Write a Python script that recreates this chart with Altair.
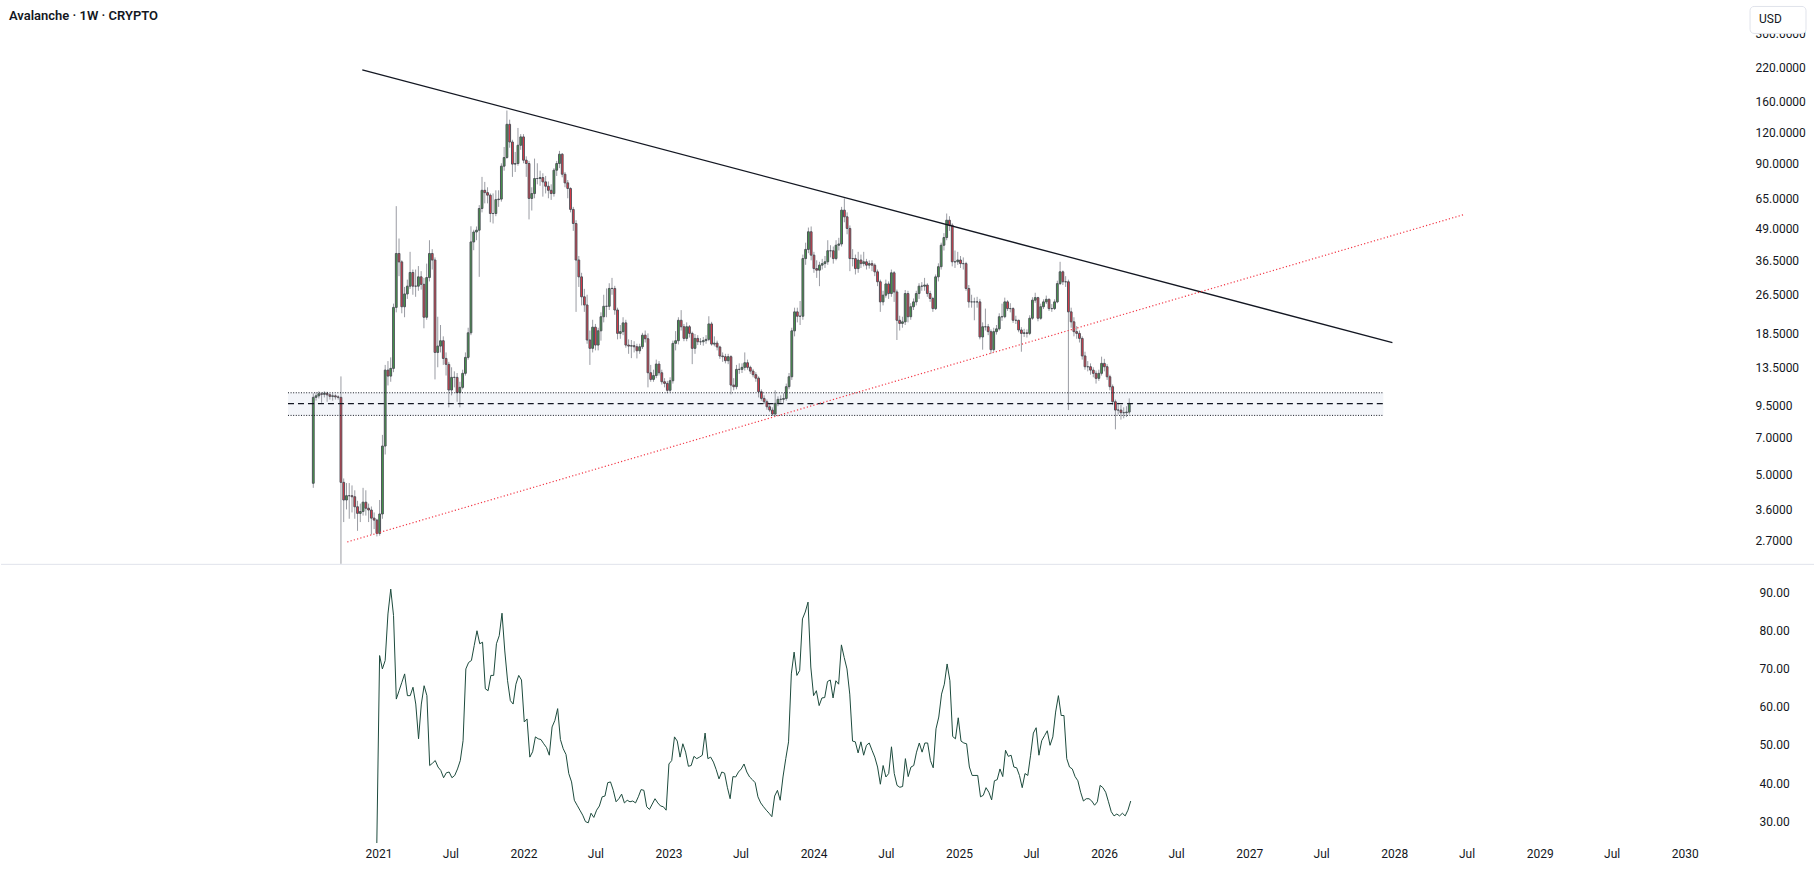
import altair as alt
import numpy as np
import pandas as pd

# ---------------------------------------------------------------- data
TITLE = "Avalanche · 1W · CRYPTO"
FIRST_WEEK = "2020-07-13"          # Monday of the first weekly bar
FIRST_OPEN = 4.59

# weekly closes, highs and lows (USD)
closes = [
    10.21, 10.35, 10.55, 10.5, 10.6, 10.45, 10.3, 10.35, 10.25, 10.21,
    4.63, 3.93, 4.09, 4.09, 4.05, 3.69, 3.47, 3.53, 3.85, 3.64,
    3.58, 3.32, 3.26, 2.88, 3.45, 6.49, 13.15, 12.44, 13.36, 23.56,
    38.9, 35.97, 23.7, 26.7, 28.7, 32.6, 28.7, 28.7, 31.3, 29.2,
    21.5, 31.1, 38.9, 36.6, 15.5, 16.44, 17.28, 14.66, 13.87, 10.93,
    12.29, 12.29, 10.66, 11.2, 12.76, 14.8, 18.6, 43.3, 47.5, 48.3,
    59.1, 70.0, 68.5, 66.9, 56.4, 56.4, 64.2, 64.5, 87.6, 94.9,
    129.3, 109.7, 89.3, 89.8, 106.4, 115.0, 92.6, 89.8, 64.9, 67.9,
    78.1, 78.1, 78.8, 75.7, 72.7, 70.0, 67.9, 84.4, 89.8, 97.9,
    81.3, 75.0, 71.2, 58.6, 51.4, 36.6, 31.3, 26.0, 24.1, 17.4,
    16.1, 19.6, 16.6, 18.95, 21.6, 23.8, 23.8, 28.1, 28.1, 23.0,
    18.5, 18.8, 20.4, 16.6, 16.44, 16.5, 16.34, 15.74, 16.34, 18.2,
    17.6, 12.83, 12.06, 12.5, 13.91, 12.83, 11.8, 11.62, 10.9, 11.91,
    16.86, 17.28, 20.9, 19.68, 17.66, 19.68, 18.5, 16.1, 17.66, 17.12,
    17.12, 17.3, 17.5, 20.2, 16.75, 16.9, 16.3, 14.99, 14.9, 14.35,
    14.9, 11.44, 11.27, 13.24, 13.24, 13.49, 14.08, 13.49, 13.03, 12.6,
    12.2, 10.75, 10.11, 9.80, 9.35, 9.07, 8.74, 9.65, 10.02, 10.02,
    10.1, 11.27, 12.36, 18.95, 22.6, 21.7, 21.7, 37.1, 40.4, 47.6,
    38.3, 33.8, 33.3, 34.9, 35.4, 36.0, 39.9, 39.9, 37.1, 42.0,
    42.5, 58.2, 54.7, 49.1, 37.1, 37.1, 33.8, 36.6, 35.4, 36.0,
    34.9, 35.4, 34.9, 32.8, 29.9, 24.8, 26.4, 29.3, 26.8, 32.5,
    27.2, 20.9, 20.3, 20.6, 26.8, 21.6, 23.7, 24.8, 26.8, 28.7,
    28.7, 29.0, 26.8, 25.6, 23.3, 31.3, 34.4, 42.0, 45.1, 53.0,
    50.6, 36.0, 36.0, 36.6, 35.4, 35.4, 28.1, 24.8, 24.8, 24.8,
    24.8, 17.9, 19.68, 19.68, 18.8, 15.9, 18.8, 19.3, 21.6, 21.6,
    24.8, 23.3, 23.3, 20.9, 20.9, 19.1, 18.5, 18.6, 18.5, 21.3,
    25.2, 25.8, 21.3, 23.7, 24.8, 25.4, 23.3, 23.3, 24.8, 29.4,
    32.8, 29.9, 29.9, 22.6, 20.6, 18.8, 18.5, 17.66, 15.0, 13.57,
    13.57, 13.15, 12.76, 12.18, 12.76, 14.0, 13.57, 12.36, 11.27, 9.80,
    9.07, 9.07, 8.85, 8.85, 8.9, 9.65,
]
highs = [
    10.6, 10.7, 10.8, 10.7, 10.8, 10.75, 10.6, 10.6, 10.5, 10.4,
    12.4, 4.8, 4.6, 4.6, 4.5, 4.3, 3.9, 3.8, 4.4, 4.3,
    3.8, 3.7, 3.5, 3.3, 3.93, 7.2, 13.8, 14.3, 14.8, 24.4,
    60.4, 44.7, 36.5, 28.5, 30.5, 39.5, 33.5, 33.5, 34.6, 33.0,
    31.0, 35.4, 44.0, 40.5, 37.5, 21.6, 20.0, 18.0, 15.5, 14.2,
    13.5, 13.0, 12.8, 11.8, 13.2, 15.5, 19.5, 50.1, 48.5, 50.0,
    61.0, 79.3, 75.7, 72.0, 68.0, 68.0, 70.0, 70.0, 90.0, 104.7,
    147.0, 135.0, 112.0, 100.0, 125.0, 118.0, 118.0, 96.0, 92.0, 72.0,
    94.0, 90.0, 84.0, 82.0, 80.0, 76.0, 74.0, 86.0, 92.0, 101.0,
    99.0, 83.0, 77.0, 72.0, 60.0, 53.0, 38.0, 32.5, 28.0, 26.5,
    19.0, 21.0, 20.2, 19.5, 22.5, 26.5, 28.1, 29.5, 31.0, 28.8,
    23.5, 20.0, 21.5, 21.0, 17.5, 17.4, 17.2, 16.8, 16.8, 18.6,
    19.0, 18.5, 13.8, 13.2, 14.5, 14.3, 13.2, 12.2, 11.9, 12.3,
    17.3, 18.9, 21.5, 22.97, 20.2, 20.5, 20.0, 18.8, 18.4, 18.2,
    17.7, 17.9, 18.2, 21.7, 20.6, 18.0, 17.3, 16.5, 15.5, 15.3,
    15.3, 15.1, 12.2, 13.8, 14.0, 14.0, 15.5, 14.5, 13.7, 13.3,
    12.9, 12.4, 11.0, 10.4, 10.0, 9.6, 9.3, 10.9, 10.3, 10.4,
    10.6, 11.6, 12.8, 19.5, 23.5, 23.5, 25.0, 38.5, 43.0, 49.5,
    50.0, 39.5, 36.5, 36.0, 37.0, 38.0, 44.0, 42.0, 41.5, 44.0,
    45.0, 60.0, 64.9, 57.0, 50.5, 40.5, 38.5, 39.5, 38.5, 39.5,
    37.0, 36.5, 36.5, 35.5, 33.5, 30.5, 27.5, 30.5, 30.0, 33.5,
    33.0, 27.8, 21.8, 21.6, 27.7, 27.5, 24.5, 25.6, 27.5, 29.5,
    29.8, 31.0, 29.5, 27.5, 26.0, 32.0, 35.5, 43.0, 47.0, 56.4,
    55.0, 51.5, 40.0, 39.5, 38.0, 37.5, 36.0, 29.0, 26.5, 25.8,
    26.0, 25.5, 20.5, 23.3, 20.2, 19.2, 19.5, 20.0, 22.3, 24.4,
    25.8, 25.2, 24.5, 23.6, 21.8, 21.0, 19.6, 19.3, 19.2, 21.9,
    25.9, 27.0, 26.0, 24.4, 25.4, 26.3, 25.6, 24.3, 25.4, 30.2,
    36.0, 33.2, 31.5, 30.5, 23.5, 21.5, 19.8, 19.0, 18.0, 15.6,
    14.3, 14.0, 13.5, 13.1, 13.2, 14.9, 14.6, 13.9, 12.6, 11.5,
    10.0, 9.7, 9.5, 9.3, 9.4, 10.11,
]
lows = [
    4.4, 9.9, 10.1, 9.7, 10.2, 9.8, 10.0, 9.9, 10.0, 10.0,
    2.17, 3.2, 3.6, 3.3, 3.5, 3.3, 2.95, 3.2, 3.4, 3.4,
    3.2, 2.85, 3.0, 2.80, 2.82, 3.3, 6.0, 11.4, 11.8, 12.9,
    22.5, 31.5, 22.3, 21.5, 25.5, 28.0, 26.5, 26.0, 27.5, 27.8,
    19.4, 21.0, 30.0, 33.5, 12.06, 13.5, 15.5, 13.8, 12.5, 9.3,
    10.4, 11.2, 9.8, 9.3, 11.0, 12.5, 14.5, 18.2, 40.1, 44.0,
    31.3, 57.0, 62.0, 62.0, 52.0, 51.4, 55.0, 60.0, 63.0, 84.0,
    94.0, 104.0, 79.3, 83.0, 88.0, 102.0, 90.0, 79.3, 53.4, 58.0,
    65.0, 74.0, 73.0, 66.0, 68.0, 65.0, 64.0, 66.0, 80.0, 86.0,
    79.0, 72.0, 65.0, 57.0, 48.0, 22.6, 28.5, 24.0, 22.6, 16.8,
    13.8, 15.5, 15.8, 15.8, 17.3, 20.5, 21.5, 23.0, 26.5, 22.0,
    17.5, 17.6, 18.2, 16.2, 15.3, 14.7, 15.5, 14.66, 15.3, 16.0,
    17.0, 11.2, 11.8, 11.8, 12.2, 12.5, 11.5, 11.2, 10.6, 10.7,
    11.6, 15.8, 16.7, 19.0, 17.2, 17.2, 17.8, 13.9, 15.3, 16.6,
    16.6, 16.5, 16.8, 17.2, 16.5, 16.4, 15.8, 14.6, 14.2, 14.0,
    13.9, 10.5, 10.9, 11.0, 12.7, 12.8, 13.1, 13.2, 12.7, 12.3,
    11.8, 10.2, 9.9, 9.6, 9.1, 8.9, 8.6, 8.6, 9.4, 9.7,
    9.7, 9.9, 11.0, 12.0, 18.0, 20.5, 20.0, 21.0, 35.0, 39.0,
    36.5, 32.5, 31.0, 28.7, 33.5, 34.0, 35.0, 37.5, 35.4, 36.5,
    40.0, 41.5, 52.0, 46.5, 33.0, 34.5, 32.0, 32.5, 34.0, 34.5,
    33.5, 33.8, 33.0, 31.5, 28.7, 22.6, 24.0, 25.8, 25.5, 26.0,
    24.8, 17.4, 19.0, 19.5, 20.0, 20.5, 21.0, 23.0, 24.0, 25.5,
    27.5, 27.5, 26.0, 24.8, 22.6, 23.0, 30.0, 33.5, 40.0, 44.0,
    48.0, 34.5, 34.0, 35.0, 34.0, 33.5, 27.5, 23.5, 23.5, 20.9,
    23.5, 17.5, 15.9, 19.0, 18.2, 15.3, 15.6, 18.3, 19.0, 20.8,
    21.3, 22.8, 22.5, 20.4, 20.2, 18.7, 15.6, 17.9, 17.8, 18.2,
    21.0, 24.6, 20.7, 21.0, 23.2, 24.3, 22.8, 22.6, 23.0, 24.5,
    29.0, 29.0, 28.5, 9.07, 19.5, 18.0, 17.6, 17.0, 14.5, 13.2,
    13.0, 12.6, 12.3, 11.6, 11.9, 12.5, 13.0, 12.0, 10.9, 9.5,
    7.58, 8.7, 8.3, 8.4, 8.5, 8.7,
]

# weekly RSI, first value on bar 24
RSI_FIRST_BAR = 24
rsi = [
    24.3, 73.4, 69.9, 72.1, 84.3, 90.8, 83.9, 62.0, 64.2, 66.4,
    68.6, 62.9, 62.9, 65.1, 60.7, 51.6, 60.7, 65.5, 62.9, 44.6,
    45.2, 45.9, 44.2, 43.3, 41.4, 42.7, 42.9, 41.4, 42.0, 43.7,
    45.9, 51.1, 69.9, 71.6, 72.1, 76.0, 79.9, 76.5, 76.9, 64.7,
    64.2, 68.2, 68.2, 76.5, 78.6, 84.5, 74.6, 66.8, 61.6, 60.7,
    65.9, 68.2, 67.0, 56.0, 56.8, 46.8, 48.2, 52.1, 51.6, 51.4,
    50.3, 49.3, 47.3, 54.7, 56.4, 59.5, 51.4, 49.0, 47.5, 42.5,
    40.3, 35.5, 34.2, 32.9, 31.6, 29.9, 29.6, 32.1, 31.0, 32.9,
    34.0, 36.4, 36.6, 40.1, 40.3, 38.1, 35.1, 35.9, 37.1, 34.8,
    35.5, 35.1, 35.3, 34.8, 36.4, 38.3, 38.1, 33.8, 33.1, 34.5,
    35.9, 34.8, 34.0, 33.8, 32.9, 45.0, 45.9, 52.1, 51.0, 46.8,
    50.3, 48.1, 44.4, 44.6, 47.0, 46.4, 46.8, 47.3, 53.1, 46.4,
    46.8, 45.5, 43.5, 41.1, 42.9, 42.6, 38.9, 35.9, 41.7, 41.6,
    42.9, 43.7, 45.0, 42.9, 41.6, 40.9, 40.1, 36.4, 34.8, 33.8,
    32.9, 32.1, 31.2, 36.6, 38.1, 35.5, 41.6, 46.4, 50.8, 68.6,
    74.3, 68.2, 69.5, 83.0, 84.8, 87.4, 70.4, 62.9, 64.2, 60.3,
    62.3, 62.4, 66.6, 67.0, 62.3, 66.8, 65.9, 76.2, 72.9, 69.9,
    63.3, 51.0, 50.8, 47.9, 50.8, 47.3, 49.9, 50.5, 48.6, 46.8,
    44.2, 39.7, 44.6, 41.6, 42.5, 49.5, 42.5, 39.4, 38.9, 39.1,
    46.4, 41.7, 44.2, 44.6, 48.1, 50.5, 48.1, 50.5, 50.5, 45.9,
    44.0, 54.2, 57.3, 63.3, 65.9, 71.2, 66.8, 52.2, 51.6, 57.1,
    51.0, 50.5, 50.3, 44.2, 42.0, 42.0, 42.0, 36.4, 36.8, 38.8,
    37.6, 35.6, 40.6, 40.9, 43.7, 41.7, 48.6, 47.0, 47.3, 44.2,
    44.0, 42.0, 38.8, 42.5, 42.0, 47.3, 53.1, 54.5, 47.3, 51.1,
    52.4, 53.7, 49.9, 52.1, 58.6, 62.9, 57.7, 57.7, 46.4, 44.2,
    43.7, 41.7, 40.6, 37.6, 35.3, 35.9, 35.9, 35.3, 34.2, 35.1,
    39.4, 38.8, 37.6, 35.1, 32.5, 31.4, 31.9, 31.4, 32.1, 31.4,
    32.9, 35.3,
]

# drawn levels and trend lines (date, price)
resistance = [("2020-11-14", 214.7), ("2028-01-04", 16.97)]
support = [("2020-10-07", 2.66), ("2028-07-02", 55.8)]
zone_start, zone_end = "2020-05-10", "2027-12-12"
zone_top, zone_mid, zone_bottom = 10.65, 9.62, 8.63

price_ticks = [2.7, 3.6, 5.0, 7.0, 9.5, 13.5, 18.5, 26.5, 36.5, 49.0,
               65.0, 90.0, 120.0, 160.0, 220.0, 300.0]
rsi_ticks = [30, 40, 50, 60, 70, 80, 90]

# ---------------------------------------------------------------- frames
dates = pd.date_range(FIRST_WEEK, periods=len(closes), freq="7D")
opens = [FIRST_OPEN] + closes[:-1]
candles = pd.DataFrame({
    "date": dates.strftime("%Y-%m-%d"),
    "open": opens, "close": closes, "high": highs, "low": lows,
})
candles["dir"] = np.where(candles["close"] >= candles["open"], "up", "down")

rsi_dates = pd.date_range(dates[RSI_FIRST_BAR], periods=len(rsi), freq="7D")
rsi_df = pd.DataFrame({"date": rsi_dates.strftime("%Y-%m-%d"), "rsi": rsi})

res_df = pd.DataFrame(resistance, columns=["date", "price"])
sup_df = pd.DataFrame(support, columns=["date", "price"])
zone_df = pd.DataFrame({"start": [zone_start], "end": [zone_end],
                        "top": [zone_top], "bottom": [zone_bottom]})
levels_df = pd.DataFrame({"start": [zone_start] * 3, "end": [zone_end] * 3,
                          "price": [zone_top, zone_mid, zone_bottom],
                          "kind": ["dot", "dash", "dot"]})

# ---------------------------------------------------------------- layout
PLOT_W = 1745
PRICE_H = 564
RSI_H = 279
PX_PER_DAY = 2.785 / 7.0
FIRST_BAR_X = 309.4

t_first = pd.Timestamp(FIRST_WEEK)
t0 = t_first - pd.Timedelta(days=FIRST_BAR_X / PX_PER_DAY)
t1 = t0 + pd.Timedelta(days=PLOT_W / PX_PER_DAY)
ms = lambda t: int(pd.Timestamp(t).value // 10**6)
x_scale = alt.Scale(domain=[ms(t0), ms(t1)])

x_ticks = []
for yr in range(2021, 2031):
    x_ticks.append(ms(f"{yr}-01-01"))
    if yr < 2030:
        x_ticks.append(ms(f"{yr}-07-01"))

FONT = "Roboto"
INK = "#131722"

y_price = alt.Scale(type="log", domain=[2.17, 409], nice=False, zero=False)
price_axis = alt.Axis(orient="right", values=price_ticks, format=".4f",
                      title=None, ticks=False, domain=False, grid=False,
                      labelPadding=11, labelFontSize=12, labelColor=INK,
                      labelFont=FONT, labelOverlap=False)

X = lambda f: alt.X(f, type="temporal", scale=x_scale, axis=None)
Y = lambda f: alt.Y(f, type="quantitative", scale=y_price, axis=price_axis)

zone = alt.Chart(zone_df).mark_rect(color="#f3f5f9").encode(
    x=X("start"), x2="end", y=Y("bottom"), y2="top")

wicks = alt.Chart(candles).mark_rule(color="#9a9ca3", strokeWidth=1).encode(
    x=X("date"), y=Y("low"), y2="high")

bodies = alt.Chart(candles).mark_bar(size=1.8, stroke="#4f525a",
                                     strokeWidth=1).encode(
    x=X("date"), y=Y("open"), y2="close",
    fill=alt.Fill("dir:N", legend=None,
                  scale=alt.Scale(domain=["up", "down"],
                                  range=["#43a047", "#f23645"])))

dotted = alt.Chart(levels_df).transform_filter("datum.kind == 'dot'").mark_rule(
    color=INK, strokeWidth=1, strokeDash=[1, 1.6]).encode(
    x=X("start"), x2="end", y=Y("price"))
dashed = alt.Chart(levels_df).transform_filter("datum.kind == 'dash'").mark_rule(
    color=INK, strokeWidth=1.2, strokeDash=[6, 4]).encode(
    x=X("start"), x2="end", y=Y("price"))

res_line = alt.Chart(res_df).mark_line(color=INK, strokeWidth=1.3).encode(
    x=X("date"), y=Y("price"))
sup_line = alt.Chart(sup_df).mark_line(color="#f23645", strokeWidth=1.2,
                                       strokeDash=[1.2, 2.2]).encode(
    x=X("date"), y=Y("price"))

title = alt.Chart(pd.DataFrame({"t": [TITLE]})).mark_text(
    align="left", baseline="middle", font=FONT, fontSize=13,
    fontWeight=600, color=INK).encode(
    x=alt.value(8), y=alt.value(16), text="t:N")

usd_box = alt.Chart(pd.DataFrame({"t": ["USD"]})).mark_rect(
    fill="white", stroke="#e0e3eb", strokeWidth=1, cornerRadius=4).encode(
    x=alt.value(1751), x2=alt.value(1807), y=alt.value(6), y2=alt.value(33))
usd_text = alt.Chart(pd.DataFrame({"t": ["USD"]})).mark_text(
    align="left", baseline="middle", font=FONT, fontSize=12, color=INK).encode(
    x=alt.value(1760), y=alt.value(18.5), text="t:N")

separator = alt.Chart(pd.DataFrame({"t": [0]})).mark_rule(
    color="#e0e3eb", strokeWidth=1).encode(
    x=alt.value(0), x2=alt.value(1815), y=alt.value(PRICE_H + 0.5))

price = alt.layer(zone, wicks, bodies, dotted, dashed, res_line, sup_line,
                  title, usd_box, usd_text, separator).properties(
    width=PLOT_W, height=PRICE_H)

rsi_chart = alt.Chart(rsi_df).mark_line(color="#1c4a3c", strokeWidth=1).encode(
    x=alt.X("date:T", scale=x_scale,
            axis=alt.Axis(values=x_ticks, title=None, ticks=False, domain=False,
                          grid=False, labelPadding=4, labelFontSize=12,
                          labelColor=INK, labelFont=FONT, labelOverlap=False,
                          labelFlush=False,
                          labelExpr="utcFormat(datum.value, '%m') == '01' ? "
                                    "utcFormat(datum.value, '%Y') : "
                                    "utcFormat(datum.value, '%b')")),
    y=alt.Y("rsi:Q", scale=alt.Scale(domain=[23.9, 96.9], nice=False, zero=False),
            axis=alt.Axis(orient="right", values=rsi_ticks, format=".2f",
                          title=None, ticks=False, domain=False, grid=False,
                          labelPadding=15, labelFontSize=12, labelColor=INK,
                          labelFont=FONT, labelOverlap=False)),
).properties(width=PLOT_W, height=RSI_H)

chart = alt.vconcat(price, rsi_chart, spacing=1).properties(
    padding=0, background="white"
).configure_view(stroke=None)

chart.save("out.html", embed_options={"renderer": "svg", "actions": False})
